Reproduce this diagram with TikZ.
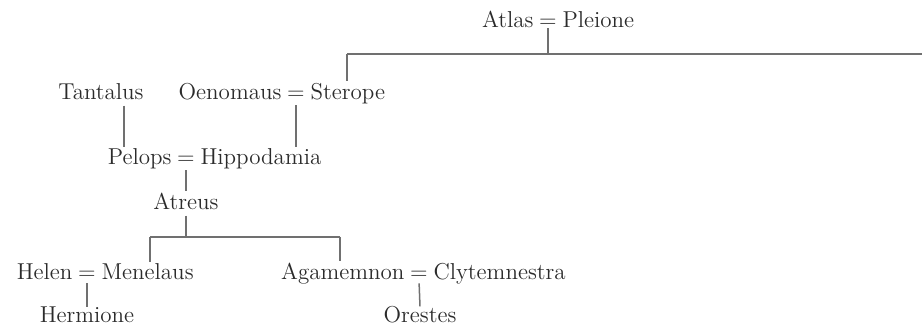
\documentclass[tikz,border=0pt]{standalone}
\usetikzlibrary{calc}
\definecolor{ink}{HTML}{2B2B2B}
\definecolor{rule}{HTML}{707070}
\begin{document}
\begin{tikzpicture}[x=0.5pt,y=-0.5pt,
  nm/.style={font=\fontsize{11.5}{13}\selectfont, text=ink, inner sep=0pt, anchor=base},
  eqs/.style={nm, inner xsep=2.5pt},
  link/.style={draw=rule, line width=0.75pt}]
\useasboundingbox (0,0) rectangle (922,331);
% Atlas = Pleione
\node[eqs] (ateq) at (548,28) {=};
\node[nm, anchor=base east] (atlas) at (ateq.base west) {Atlas};
\node[nm, anchor=base west] (pleione) at (ateq.base east) {Pleione};
% Oenomaus = Sterope
\node[eqs] (oeeq) at (296,100) {=};
\node[nm, anchor=base east] (oenomaus) at (oeeq.base west) {Oenomaus};
\node[nm, anchor=base west] (sterope) at (oeeq.base east) {Sterope};
% Tantalus
\node[nm] (tantalus) at (101,100) {Tantalus};
% Pelops = Hippodamia
\node[eqs] (peeq) at (186,165) {=};
\node[nm, anchor=base east] (pelops) at (peeq.base west) {Pelops};
\node[nm, anchor=base west] (hippodamia) at (peeq.base east) {Hippodamia};
% Atreus
\node[nm] (atreus) at (186,210) {Atreus};
% Helen = Menelaus
\node[eqs] (heeq) at (87,280) {=};
\node[nm, anchor=base east] (helen) at (heeq.base west) {Helen};
\node[nm, anchor=base west] (menelaus) at (heeq.base east) {Menelaus};
% Agamemnon = Clytemnestra
\node[eqs] (ageq) at (419,280) {=};
\node[nm, anchor=base east] (agamemnon) at (ageq.base west) {Agamemnon};
\node[nm, anchor=base west] (clytemnestra) at (ageq.base east) {Clytemnestra};
% children
\node[nm] (hermione) at (87,323) {Hermione};
\node[nm] (orestes) at (420,323) {Orestes};
% junctions
\coordinate (atbar) at (548,54);
\coordinate (stbar) at (347,54);
\coordinate (redge) at (922,54);
\coordinate (trbar) at (186,237);
\coordinate (mebar) at (150,237);
\coordinate (agbar) at (340,237);
\coordinate (tanx) at (124,0);
% connectors
\draw[link] (ateq.south) -- (atbar);
\draw[link] (stbar) -- (redge);
\draw[link, shorten >=1pt] (stbar) -- (stbar |- sterope.north);
\draw[link, shorten <=2.5pt, shorten >=1pt] (tanx |- tantalus.south) -- (tanx |- pelops.north);
\draw[link, shorten <=2.5pt, shorten >=1pt] (oeeq.south) -- (oeeq.south |- hippodamia.north);
\draw[link, shorten <=2.5pt, shorten >=1pt] (peeq.south) -- (atreus.north);
\draw[link, shorten <=2.5pt] (atreus.south) -- (trbar);
\draw[link] (mebar) -- (agbar);
\draw[link, shorten >=1pt] (mebar) -- (mebar |- menelaus.north);
\draw[link, shorten >=1pt] (agbar) -- (agbar |- agamemnon.north);
\draw[link, shorten <=1.5pt] (heeq.south) -- (hermione.north);
\draw[link, shorten <=1.5pt] (ageq.south) -- (orestes.north);
\end{tikzpicture}
\end{document}
